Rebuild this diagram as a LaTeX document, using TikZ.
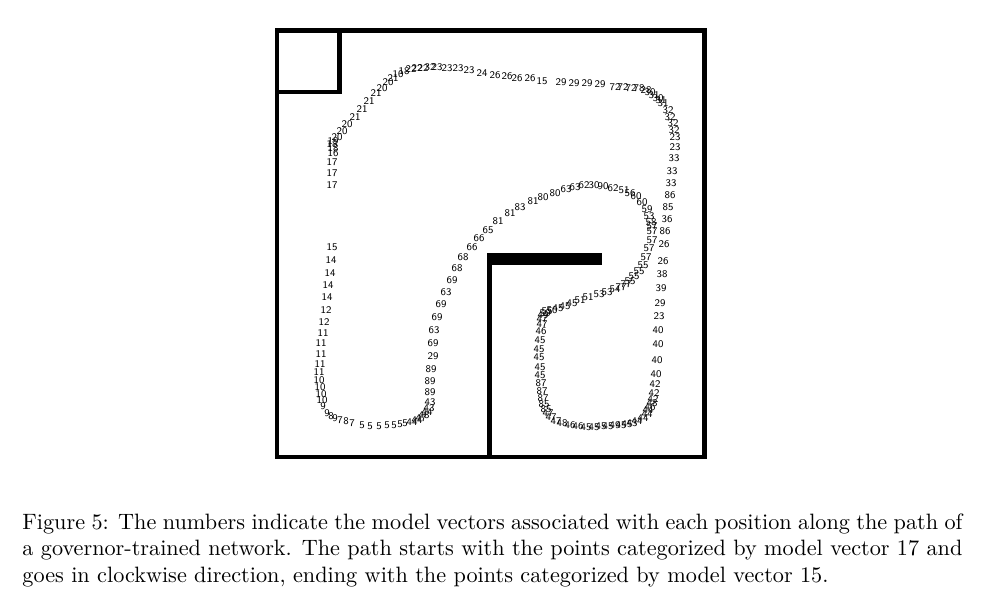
\documentclass[tikz,border=0pt]{standalone}
\usepackage{tikz}

\tikzset{
    vec/.style={font=\fontsize{4.6}{5}\selectfont\sffamily, inner sep=0pt},
    wall/.style={line width=2.2pt},
    legend/.style={anchor=north west, inner sep=0pt, text width=423pt, align=justify, font=\normalsize}
}

\begin{document}
\begin{tikzpicture}[x=0.45pt,y=-0.45pt]
    \useasboundingbox (0,0) rectangle (984,608);
    \draw[wall] (277,30.5) rectangle (704.5,457);
    \draw[wall] (277,92) -| (339.5,30.5);
    \fill (487,253) rectangle (602,265);
    \fill (487,253) rectangle (492,457);

    \foreach \x/\y/\n in {332/185/17, 332/173/17, 332/162/17, 333/153/16, 333/148/18, 332/144/18, 333/141/19,
        337/137/20, 342/131/20, 347/124/20, 355/117/21, 362/109/21, 369/101/21, 376/93/21, 382/88/20, 388/82/20,
        393/78/21, 398/74/10, 404/71/18, 411/69/22, 417/68/22, 423/68/22, 430/67/32, 437/67/23, 447/68/23,
        458/68/23, 469/70/23, 482/73/24, 495/75/26, 507/76/26, 517/78/26, 530/78/26, 542/81/15, 561/82/29,
        574/83/29, 587/83/29, 600/84/29, 615/87/72, 623/87/72, 631/88/72, 639/88/78, 646/90/28, 650/92/30,
        654/95/31, 658/98/30, 661/100/31, 663/103/31}
        \node[vec] (v\x-\y) at (\x,\y) {\n};

    \foreach \x/\y/\n in {668/110/32, 670/117/32, 673/123/32, 674/130/32, 675/137/23, 675/147/23, 674/158/33,
        672/171/33, 671/183/33, 670/195/86, 668/207/85, 667/219/36, 665/231/86, 664/244/26, 663/261/26,
        662/274/38, 661/288/39, 660/303/29, 659/316/23, 658/330/40, 658/344/40, 657/360/40, 656/374/40,
        655/384/42, 654/393/42, 653/399/42, 652/403/48, 650/407/46, 648/410/44, 647/414/44}
        \node[vec] (v\x-\y) at (\x,\y) {\n};

    \foreach \x/\y/\n in {643/418/44, 637/421/44, 632/423/43, 627/424/45, 621/425/45, 615/425/49, 608/426/45,
        601/426/45, 594/427/45, 586/427/45, 578/426/46, 570/425/46, 562/423/48, 556/421/47, 551/417/47,
        548/413/47, 546/409/85, 544/404/85, 543/398/87, 542/391/87, 541/383/87, 540/375/45, 540/367/45,
        539/357/45, 539/349/45, 540/340/45, 541/331/46, 542/324/47, 542/319/47, 543/315/49, 545/313/50,
        547/311/55, 552/310/50, 558/308/45, 565/306/45, 572/303/45, 580/300/51, 588/297/51, 599/294/53,
        607/292/53, 615/289/54, 621/287/77, 626/284/77, 630/281/55, 634/276/55, 639/271/55, 643/265/55}
        \node[vec] (v\x-\y) at (\x,\y) {\n};

    \foreach \x/\y/\n in {646/257/57, 649/248/57, 652/240/57, 652/231/57, 652/226/57, 651/222/58, 649/216/53,
        647/209/59, 642/202/60, 636/196/60, 630/193/56, 624/190/51, 613/188/62, 603/186/90, 594/185/30,
        584/185/62, 575/187/63, 566/189/63, 555/193/80, 543/197/80, 533/201/81, 520/207/83, 510/213/81,
        498/221/81, 488/230/65, 479/238/66, 472/247/66}
        \node[vec] (v\x-\y) at (\x,\y) {\n};

    \foreach \x/\y/\n in {463/257/68, 457/268/68, 452/280/69, 446/292/63, 441/304/69, 437/317/69, 434/330/63,
        433/343/69, 433/356/29, 431/369/89, 430/381/89, 430/392/89, 430/402/43, 429/408/43, 427/412/44,
        424/415/48, 421/418/47, 417/420/44, 412/422/44}
        \node[vec] (v\x-\y) at (\x,\y) {\n};

    \foreach \x/\y/\n in {405/423/5, 400/424/5, 394/425/5, 387/425/5, 379/426/5, 370/426/5, 362/425/5,
        352/423/7, 346/421/8, 340/420/7, 335/418/9, 331/416/8, 327/413/9, 323/406/9, 322/400/10, 321/394/10,
        320/387/10, 319/380/10, 319/372/11, 320/364/11, 321/354/11, 321/343/11, 323/333/11, 324/322/12,
        326/310/12, 327/297/14, 328/285/14, 330/273/14, 331/260/14, 332/247/15}
        \node[vec] (v\x-\y) at (\x,\y) {\n};

    \node[legend] (caption) at (22,513) {Figure 5: The numbers indicate the model vectors associated with each position along the path of\linebreak
        a governor-trained network. The path starts with the points categorized by model vector 17 and\linebreak
        goes in clockwise direction, ending with the points categorized by model vector 15.};
\end{tikzpicture}
\end{document}
